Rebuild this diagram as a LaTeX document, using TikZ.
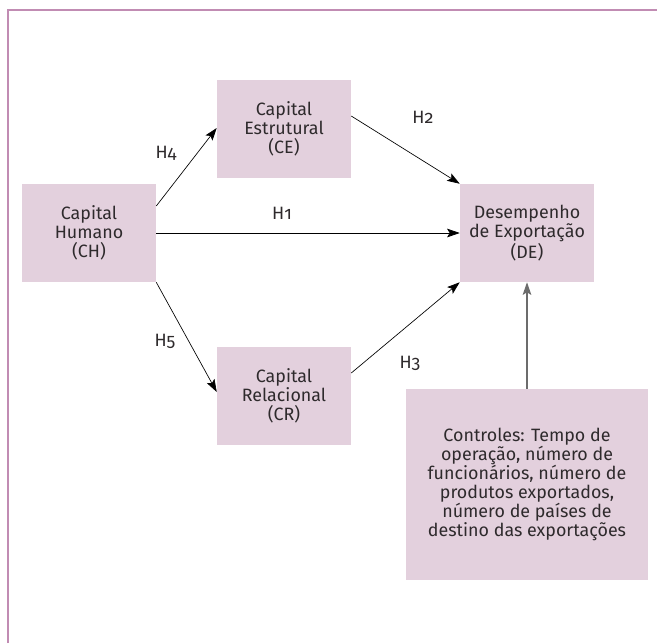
\documentclass[tikz,border=0pt]{standalone}
\usepackage{fontspec}
\setmainfont{Fira Sans}[Numbers=OldStyle]
\usetikzlibrary{arrows.meta,calc}
\definecolor{boxfill}{HTML}{E3D0DD}
\definecolor{framecol}{HTML}{C18CB3}
\definecolor{inkcol}{HTML}{2E2A2C}
\begin{document}
\begin{tikzpicture}[x=0.75pt,y=-0.75pt,
  every node/.style={font=\fontsize{13.4pt}{14.3pt}\selectfont, text=inkcol},
  construct/.style={fill=boxfill, align=center, inner sep=0pt,
    minimum width=100.5pt, minimum height=73.5pt},
  ctrlbox/.style={fill=boxfill, align=center, inner sep=0pt,
    minimum width=181.5pt, minimum height=143.25pt},
  link/.style={draw=black, line width=0.5pt,
    -{Stealth[length=9.5pt,width=6.5pt,inset=2pt]}},
  ctrllink/.style={draw=gray!85!black, line width=1pt,
    -{Stealth[length=9.5pt,width=6.5pt,inset=2pt]}},
  hlabel/.style={inner sep=0pt}]
\useasboundingbox (0,0) rectangle (657,643);
% page frame: left and top rules
\draw[framecol, line width=1.5pt] (7.5,643) -- (7.5,9.5) -- (657,9.5);

% constructs
\node[construct] (CH) at (89,233) {Capital\\Humano\\(CH)};
\node[construct] (CE) at (284,129) {Capital\\Estrutural\\(CE)};
\node[construct] (DE) at (527,233) {Desempenho\\de Exportação\\(DE)};
\node[construct] (CR) at (284,396) {Capital\\Relacional\\(CR)};
\node[ctrlbox] (CT) at (527,484.5) {Controles: Tempo de\\operação, número de\\funcionários, número de\\produtos exportados,\\número de países de\\destino das exportações};

% hypotheses
\draw[link] ($(CH.east)+(0,-27)$) -- ($(CE.west)+(0,-1)$);
\draw[link] (CH.east) -- (DE.west);
\draw[link] (CH.south east) -- ($(CR.west)+(0,-4)$);
\draw[link] ($(CE.east)+(0,-13)$) -- (DE.north west);
\draw[link] ($(CR.east)+(0,-23)$) -- (DE.south west);
\draw[ctrllink] (CT.north) -- (DE.south);

% labels
\node[hlabel] (h4) at (166,153) {H4};
\node[hlabel] (h1) at (282,213) {H1};
\node[hlabel] (h2) at (423,117) {H2};
\node[hlabel] (h5) at (165,341) {H5};
\node[hlabel] (h3) at (410,363) {H3};
\end{tikzpicture}
\end{document}
